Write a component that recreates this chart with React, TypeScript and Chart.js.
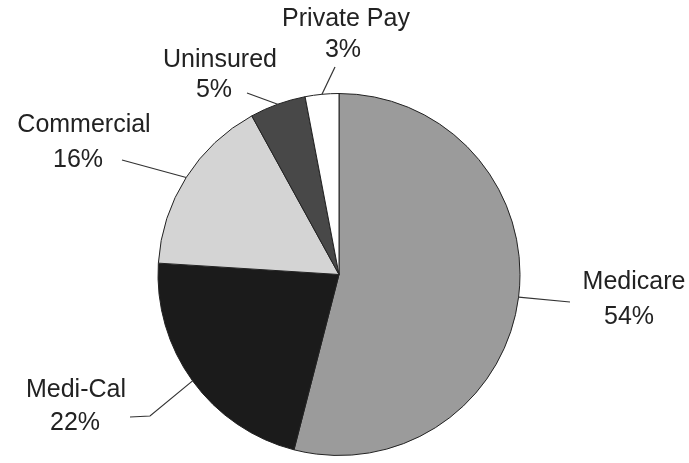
import React, { useEffect, useRef } from "react";
import { Chart, registerables } from "chart.js";

Chart.register(...registerables);

const categories = ["Medicare", "Medi-Cal", "Commercial", "Uninsured", "Private Pay"];
const shares = [54, 22, 16, 5, 3];
const pctLabels = ["54%", "22%", "16%", "5%", "3%"];
const sliceColors = ["#9b9b9b", "#1b1b1b", "#d4d4d4", "#484848", "#ffffff"];

// label layout: name position, pct position, leader elbow points (page coords)
const labelLayout = [
  { name: [634, 282], pct: [629, 317], leader: [[570, 302]] },
  { name: [76, 390], pct: [75, 423], leader: [[150, 416], [130, 417]] },
  { name: [84, 125], pct: [78, 160], leader: [[122, 160]] },
  { name: [220, 60], pct: [214, 90], leader: [[247, 93]] },
  { name: [346, 19], pct: [343, 50], leader: [[335, 67]] },
];

const labelPlugin = {
  id: "leaderLabels",
  afterDatasetsDraw(chart: any) {
    const ctx = chart.ctx;
    const meta = chart.getDatasetMeta(0);
    ctx.save();
    ctx.strokeStyle = "#333";
    ctx.lineWidth = 1.2;
    ctx.fillStyle = "#222";
    ctx.font = "25px 'Liberation Sans', Arial, sans-serif";
    ctx.textAlign = "center";
    ctx.textBaseline = "middle";
    meta.data.forEach((arc: any, i: number) => {
      const p = arc.getProps(["x", "y", "startAngle", "endAngle", "outerRadius"], true);
      const mid = (p.startAngle + p.endAngle) / 2;
      const ax = p.x + Math.cos(mid) * p.outerRadius;
      const ay = p.y + Math.sin(mid) * p.outerRadius;
      const lay = labelLayout[i];
      ctx.beginPath();
      ctx.moveTo(ax, ay);
      lay.leader.forEach((pt) => ctx.lineTo(pt[0], pt[1]));
      ctx.stroke();
      ctx.fillText(categories[i], lay.name[0], lay.name[1]);
      ctx.fillText(pctLabels[i], lay.pct[0], lay.pct[1]);
    });
    ctx.restore();
  },
};

export default function App() {
  const ref = useRef<HTMLCanvasElement | null>(null);
  useEffect(() => {
    if (!ref.current) return;
    const chart = new Chart(ref.current, {
      type: "pie",
      data: {
        labels: categories,
        datasets: [
          {
            data: shares,
            backgroundColor: sliceColors,
            borderColor: "#222",
            borderWidth: 1,
          },
        ],
      },
      options: {
        animation: false,
        responsive: true,
        maintainAspectRatio: false,
        layout: { padding: { left: 157, right: 168, top: 93, bottom: 7 } },
        plugins: {
          legend: { display: false },
          tooltip: { enabled: false },
        },
      },
      plugins: [labelPlugin],
    });
    return () => chart.destroy();
  }, []);
  return (
    <div style={{ position: "absolute", left: 0, top: 0, width: 689, height: 463, background: "#fff" }}>
      <canvas ref={ref} />
    </div>
  );
}
